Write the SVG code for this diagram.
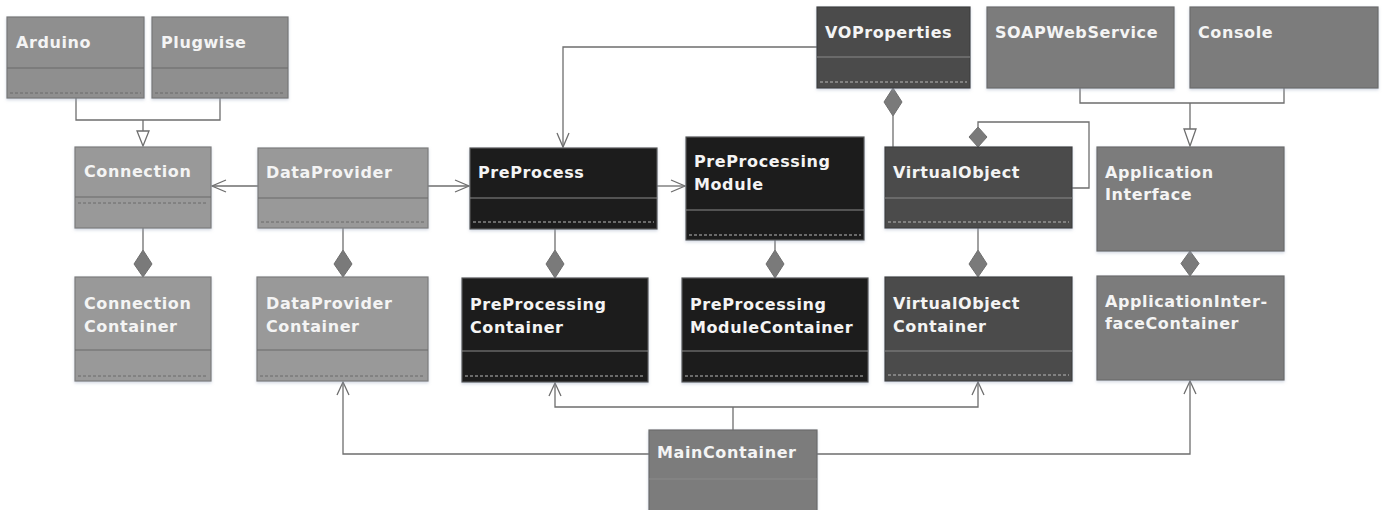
<svg xmlns="http://www.w3.org/2000/svg" width="1383" height="510" viewBox="0 0 1383 510">
  <defs>
    <filter id="shadow" x="-10%" y="-10%" width="120%" height="130%">
      <feDropShadow dx="0" dy="1.5" stdDeviation="1.5" flood-color="#9aa8c0" flood-opacity="0.45"/>
    </filter>
  </defs>
  <style>
    .box { stroke-width: 1.2; filter: url(#shadow); }
    .lt { fill: #999999; stroke: #7c7c7c; }
    .lt2 { fill: #8f8f8f; stroke: #777777; }
    .mid { fill: #7b7b7b; stroke: #6c6c6c; }
    .dk { fill: #4b4b4b; stroke: #3e3e3e; }
    .bk { fill: #1f1f1f; stroke: #555555; }
    .div-l { stroke: #6a6a6a; stroke-width: 1.2; }
    .div-d { stroke: #8a8a8a; stroke-width: 1.2; }
    .dash-l { stroke: #6a6a6a; stroke-width: 1; stroke-dasharray: 3 2; }
    .dash-d { stroke: #b8b8b8; stroke-width: 1; stroke-dasharray: 3 2; }
    .t { font-family: "DejaVu Sans", "Liberation Sans", sans-serif; font-weight: bold; font-size: 16px; letter-spacing: 0.6px; fill: #f4f4f4; }
    .ln { fill: none; stroke: #6e6e6e; stroke-width: 1.3; }
    .tri { fill: #ffffff; stroke: #6e6e6e; stroke-width: 1.3; }
    .dia { fill: #7a7a7a; stroke: #6e6e6e; stroke-width: 1; }
  </style>

  <!-- connectors -->
  <g id="connectors">
    <!-- Arduino / Plugwise generalize Connection -->
    <polyline class="ln" points="76,98 76,120 220,120 220,98"/>
    <line class="ln" x1="143" y1="120" x2="143" y2="131"/>
    <polygon class="tri" points="137,131 149,131 143,146"/>

    <!-- DataProvider -> Connection -->
    <line class="ln" x1="258" y1="186" x2="212" y2="186"/>
    <polyline class="ln" points="226,180 212,186 226,192"/>

    <!-- DataProvider -> PreProcess -->
    <line class="ln" x1="428" y1="186" x2="469" y2="186"/>
    <polyline class="ln" points="455,180 469,186 455,192"/>

    <!-- PreProcess -> PreProcessingModule -->
    <line class="ln" x1="657" y1="186" x2="685" y2="186"/>
    <polyline class="ln" points="671,180 685,186 671,192"/>

    <!-- VOProperties -> PreProcess -->
    <polyline class="ln" points="817,47 563,47 563,147"/>
    <polyline class="ln" points="557,133 563,147 569,133"/>

    <!-- VOProperties <>- VirtualObject -->
    <line class="ln" x1="893" y1="116" x2="893" y2="147"/>
    <polygon class="dia" points="893,88 902,102 893,116 884,102"/>

    <!-- VirtualObject self composition -->
    <polyline class="ln" points="1072,188 1089,188 1089,122 978,122 978,127"/>
    <polygon class="dia" points="978,127 987,137 978,147 969,137"/>

    <!-- SOAPWebService / Console generalize ApplicationInterface -->
    <polyline class="ln" points="1080,88 1080,103 1284,103 1284,88"/>
    <line class="ln" x1="1190" y1="103" x2="1190" y2="129"/>
    <polygon class="tri" points="1184,129 1196,129 1190,146"/>

    <!-- containers compose their elements -->
    <line class="ln" x1="143" y1="228" x2="143" y2="250"/>
    <polygon class="dia" points="143,250 152,264 143,277 134,264"/>
    <line class="ln" x1="343" y1="228" x2="343" y2="250"/>
    <polygon class="dia" points="343,250 352,264 343,277 334,264"/>
    <line class="ln" x1="555" y1="229" x2="555" y2="250"/>
    <polygon class="dia" points="555,250 564,264 555,278 546,264"/>
    <line class="ln" x1="775" y1="240" x2="775" y2="250"/>
    <polygon class="dia" points="775,250 784,264 775,278 766,264"/>
    <line class="ln" x1="978" y1="228" x2="978" y2="250"/>
    <polygon class="dia" points="978,250 987,264 978,277 969,264"/>
    <polygon class="dia" points="1190,251 1199,263.5 1190,276 1181,263.5"/>

    <!-- MainContainer associations -->
    <line class="ln" x1="733" y1="430" x2="733" y2="407"/>
    <polyline class="ln" points="555,383 555,407 978,407 978,382"/>
    <polyline class="ln" points="549,396 555,383 561,396"/>
    <polyline class="ln" points="972,395 978,382 984,395"/>
    <polyline class="ln" points="649,454 343,454 343,382"/>
    <polyline class="ln" points="337,395 343,382 349,395"/>
    <polyline class="ln" points="817,454 1190,454 1190,381"/>
    <polyline class="ln" points="1184,394 1190,381 1196,394"/>
  </g>

  <!-- classes -->
  <g id="Arduino">
    <rect class="box lt2" x="7" y="17" width="137" height="81"/>
    <line class="div-l" x1="7" y1="68" x2="144" y2="68"/>
    <line class="dash-l" x1="10" y1="93" x2="141" y2="93"/>
    <text class="t" x="16" y="48">Arduino</text>
  </g>
  <g id="Plugwise">
    <rect class="box lt2" x="152" y="17" width="136" height="81"/>
    <line class="div-l" x1="152" y1="68" x2="288" y2="68"/>
    <line class="dash-l" x1="155" y1="93" x2="285" y2="93"/>
    <text class="t" x="161" y="48">Plugwise</text>
  </g>
  <g id="Connection">
    <rect class="box lt" x="75" y="147" width="136" height="81"/>
    <line class="div-l" x1="75" y1="197" x2="211" y2="197"/>
    <line class="dash-l" x1="78" y1="203" x2="208" y2="203"/>
    <text class="t" x="84" y="177">Connection</text>
  </g>
  <g id="DataProvider">
    <rect class="box lt" x="258" y="148" width="170" height="80"/>
    <line class="div-l" x1="258" y1="198" x2="428" y2="198"/>
    <line class="dash-l" x1="261" y1="222" x2="425" y2="222"/>
    <text class="t" x="266" y="178">DataProvider</text>
  </g>
  <g id="ConnectionContainer">
    <rect class="box lt" x="75" y="277" width="136" height="104"/>
    <line class="div-l" x1="75" y1="350" x2="211" y2="350"/>
    <line class="dash-l" x1="78" y1="376" x2="208" y2="376"/>
    <text class="t" x="84" y="309">Connection</text>
    <text class="t" x="84" y="332">Container</text>
  </g>
  <g id="DataProviderContainer">
    <rect class="box lt" x="257" y="277" width="171" height="104"/>
    <line class="div-l" x1="257" y1="350" x2="428" y2="350"/>
    <line class="dash-l" x1="260" y1="376" x2="425" y2="376"/>
    <text class="t" x="266" y="309">DataProvider</text>
    <text class="t" x="266" y="332">Container</text>
  </g>
  <g id="PreProcess">
    <rect class="box bk" x="470" y="148" width="187" height="81"/>
    <line class="div-d" x1="470" y1="198" x2="657" y2="198"/>
    <line class="dash-d" x1="473" y1="222" x2="654" y2="222"/>
    <text class="t" x="478" y="178">PreProcess</text>
  </g>
  <g id="PreProcessingModule">
    <rect class="box bk" x="686" y="137" width="178" height="103"/>
    <line class="div-d" x1="686" y1="210" x2="864" y2="210"/>
    <line class="dash-d" x1="689" y1="235" x2="861" y2="235"/>
    <text class="t" x="694" y="167">PreProcessing</text>
    <text class="t" x="694" y="190">Module</text>
  </g>
  <g id="PreProcessingContainer">
    <rect class="box bk" x="462" y="278" width="186" height="104"/>
    <line class="div-d" x1="462" y1="351" x2="648" y2="351"/>
    <line class="dash-d" x1="465" y1="376" x2="645" y2="376"/>
    <text class="t" x="470" y="310">PreProcessing</text>
    <text class="t" x="470" y="333">Container</text>
  </g>
  <g id="PreProcessingModuleContainer">
    <rect class="box bk" x="682" y="278" width="186" height="104"/>
    <line class="div-d" x1="682" y1="351" x2="868" y2="351"/>
    <line class="dash-d" x1="685" y1="376" x2="865" y2="376"/>
    <text class="t" x="690" y="310">PreProcessing</text>
    <text class="t" x="690" y="333">ModuleContainer</text>
  </g>
  <g id="VOProperties">
    <rect class="box dk" x="817" y="7" width="153" height="81"/>
    <line class="div-d" x1="817" y1="57" x2="970" y2="57"/>
    <line class="dash-d" x1="820" y1="82" x2="967" y2="82"/>
    <text class="t" x="825" y="38">VOProperties</text>
  </g>
  <g id="VirtualObject">
    <rect class="box dk" x="885" y="147" width="187" height="81"/>
    <line class="div-d" x1="885" y1="198" x2="1072" y2="198"/>
    <line class="dash-d" x1="888" y1="222" x2="1069" y2="222"/>
    <text class="t" x="893" y="178">VirtualObject</text>
  </g>
  <g id="VirtualObjectContainer">
    <rect class="box dk" x="885" y="277" width="187" height="104"/>
    <line class="div-d" x1="885" y1="351" x2="1072" y2="351"/>
    <line class="dash-d" x1="888" y1="375" x2="1069" y2="375"/>
    <text class="t" x="893" y="309">VirtualObject</text>
    <text class="t" x="893" y="332">Container</text>
  </g>
  <g id="SOAPWebService">
    <rect class="box mid" x="987" y="7" width="187" height="81"/>
    <text class="t" x="995" y="38">SOAPWebService</text>
  </g>
  <g id="Console">
    <rect class="box mid" x="1190" y="7" width="188" height="81"/>
    <text class="t" x="1198" y="38">Console</text>
  </g>
  <g id="ApplicationInterface">
    <rect class="box mid" x="1097" y="147" width="187" height="104"/>
    <text class="t" x="1105" y="178">Application</text>
    <text class="t" x="1105" y="200">Interface</text>
  </g>
  <g id="ApplicationInterfaceContainer">
    <rect class="box mid" x="1097" y="276" width="187" height="104"/>
    <text class="t" x="1105" y="307">ApplicationInter-</text>
    <text class="t" x="1105" y="329">faceContainer</text>
  </g>
  <g id="MainContainer">
    <rect class="box mid" x="649" y="430" width="168" height="84"/>
    <line class="div-d" x1="649" y1="479" x2="817" y2="479"/>
    <text class="t" x="657" y="458">MainContainer</text>
  </g>
</svg>
